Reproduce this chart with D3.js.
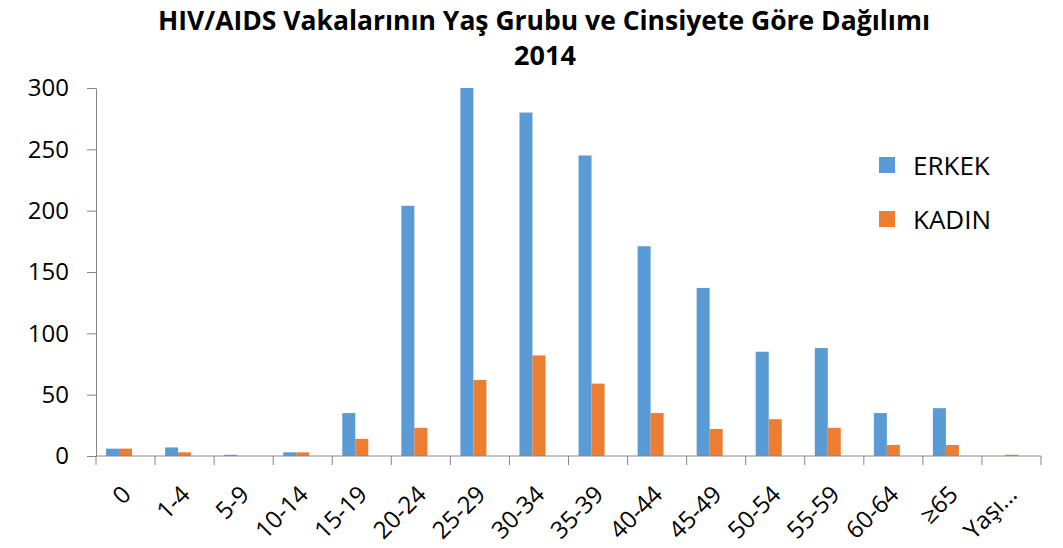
<!DOCTYPE html>
<html lang="tr">
<head>
<meta charset="UTF-8">
<title>HIV/AIDS 2014</title>
<style>
  body { margin: 0; background: #fff; }
  svg { display: block; font-family: "Open Sans", "Noto Sans", sans-serif; }
</style>
</head>
<body>
<div id="root"></div>
<script src="https://cdn.jsdelivr.net/npm/d3@7"></script>
<script>
// data
const categories = ["0", "1-4", "5-9", "10-14", "15-19", "20-24", "25-29", "30-34",
  "35-39", "40-44", "45-49", "50-54", "55-59", "60-64", "≥65", "Yaşı…"]
const erkek = [6, 7, 1, 3, 35, 204, 300, 280, 245, 171, 137, 85, 88, 35, 39, 0]
const kadin = [6, 3, 0, 3, 14, 23, 62, 82, 59, 35, 22, 30, 23, 9, 9, 1]
const seriesNames = ["ERKEK", "KADIN"]
const colors = ["#5B9BD5", "#ED7D31"]
const yTicks = [0, 50, 100, 150, 200, 250, 300]

const W = 1063, H = 548
const margin = {top: 88, right: 22, bottom: 92, left: 96}
const width = W - margin.left - margin.right
const height = H - margin.top - margin.bottom
const axisColor = "#868686"

const svg = d3.select("#root").append("svg")
  .attr("width", W)
  .attr("height", H)

// title
const title = svg.append("text")
  .attr("text-anchor", "middle")
  .attr("font-weight", "bold")
  .attr("font-size", 26)
  .attr("fill", "#000")
title.append("tspan").attr("x", 544).attr("y", 30)
  .attr("textLength", 772).attr("lengthAdjust", "spacingAndGlyphs")
  .text("HIV/AIDS Vakalarının Yaş Grubu ve Cinsiyete Göre Dağılımı")
title.append("tspan").attr("x", 545).attr("y", 65)
  .attr("font-size", 27).text("2014")

const g = svg.append("g")
  .attr("transform", `translate(${margin.left},${margin.top})`)

const y = d3.scaleLinear().domain([0, 300]).range([height, 0])

const x0 = d3.scaleBand().domain(categories).range([0, width])
// three slots per group (last one empty), as in the source spreadsheet
const gap = x0.bandwidth() * 0.17
const x1 = d3.scaleBand().domain([0, 1, 2]).range([gap, x0.bandwidth() - gap])

// y axis
const yAxis = g.append("g")
  .call(d3.axisLeft(y).tickValues(yTicks).tickSize(9).tickPadding(18).tickSizeOuter(0))
yAxis.select(".domain").attr("stroke", axisColor)
yAxis.selectAll(".tick line").attr("stroke", axisColor)
yAxis.selectAll(".tick text")
  .attr("font-size", 24)
  .attr("fill", "#000")
  .attr("font-family", "\"Open Sans\", sans-serif")

// bars
const groups = g.selectAll(".grp")
  .data(categories)
  .join("g")
  .attr("class", "grp")
  .attr("transform", d => `translate(${x0(d)},0)`)

groups.selectAll("rect")
  .data((d, i) => [erkek[i], kadin[i]])
  .join("rect")
  .attr("x", (d, j) => x1(j))
  .attr("width", x1.bandwidth())
  .attr("y", d => y(d))
  .attr("height", d => height - y(d))
  .attr("fill", (d, j) => colors[j])

// x axis: labels centred on groups, ticks on group boundaries
const xAxis = g.append("g")
  .attr("transform", `translate(0,${height})`)

xAxis.append("line")
  .attr("x1", 0).attr("x2", width)
  .attr("stroke", axisColor)

xAxis.selectAll(".bt")
  .data(categories.map(c => x0(c)).concat([width]))
  .join("line")
  .attr("class", "bt")
  .attr("x1", d => d).attr("x2", d => d)
  .attr("y1", 0).attr("y2", 9)
  .attr("stroke", axisColor)

xAxis.selectAll(".lbl")
  .data(categories)
  .join("text")
  .attr("class", "lbl")
  .attr("font-size", 24)
  .attr("fill", "#000")
  .attr("text-anchor", "end")
  .attr("dy", "0.35em")
  .attr("transform", d => `translate(${x0(d) + x0.bandwidth() / 2 + 1},34) rotate(-45)`)
  .text(d => d)

// legend
const legend = svg.append("g")
  .attr("transform", "translate(879,157)")
const items = legend.selectAll("g")
  .data(seriesNames)
  .join("g")
  .attr("transform", (d, i) => `translate(0,${i * 54})`)
items.append("rect")
  .attr("width", 16).attr("height", 16)
  .attr("fill", (d, i) => colors[i])
items.append("text")
  .attr("x", 34).attr("y", 18)
  .attr("font-size", 26)
  .attr("fill", "#000")
  .text(d => d)
</script>
</body>
</html>
